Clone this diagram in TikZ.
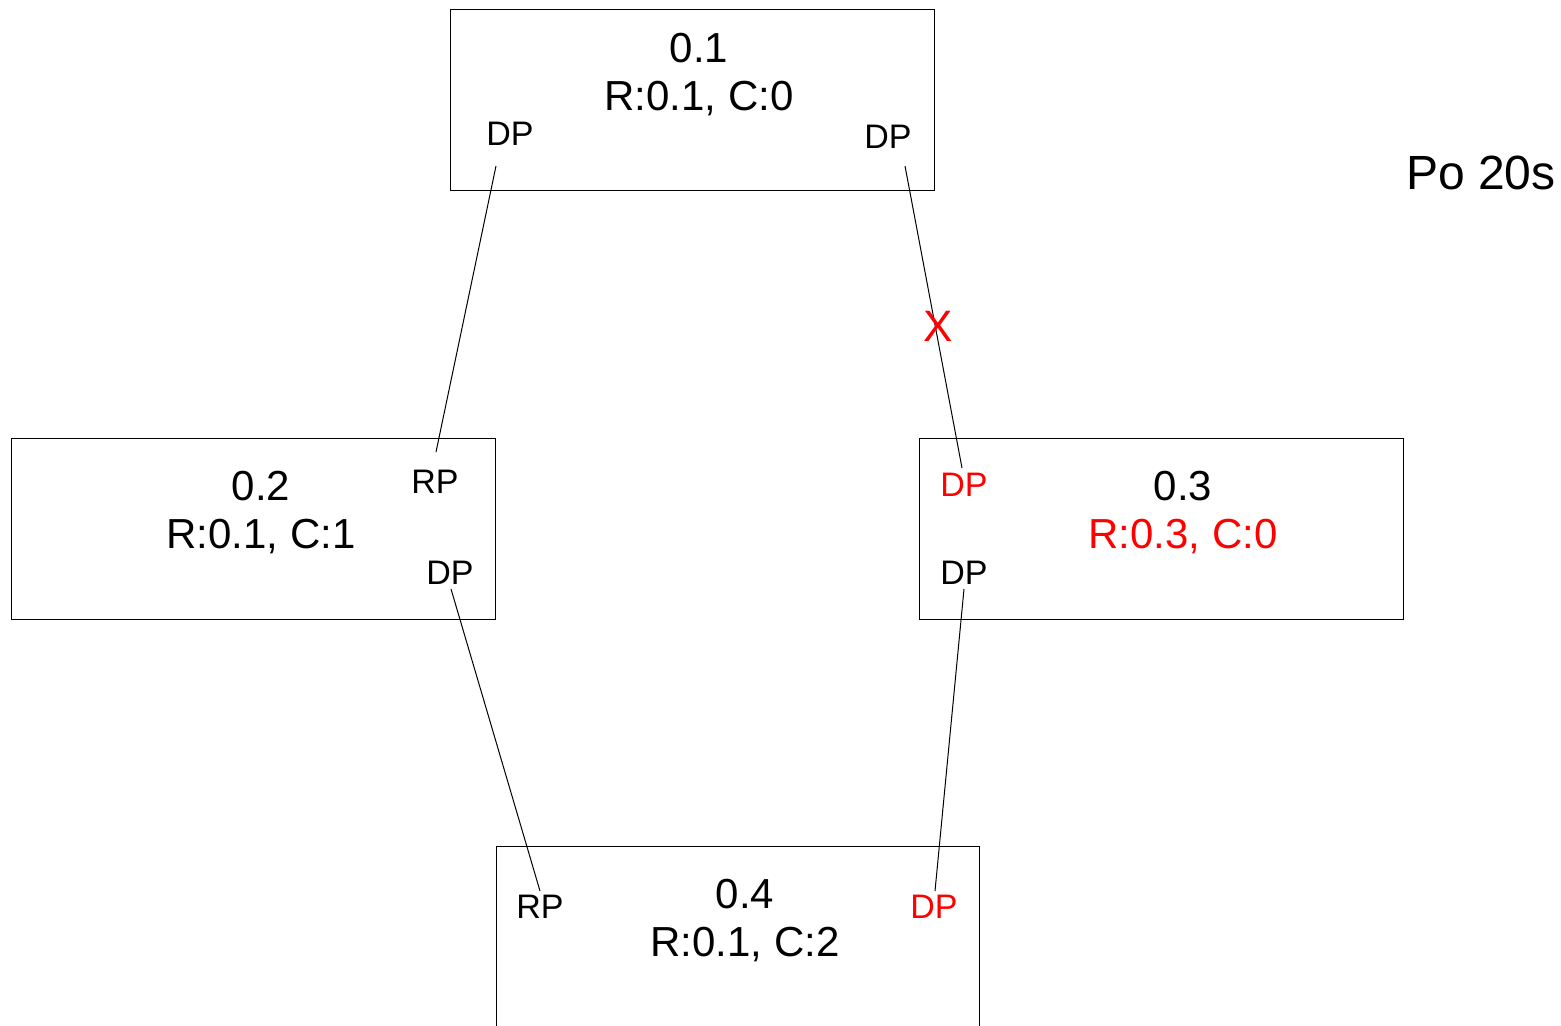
\documentclass[tikz,border=0pt]{standalone}
\usepackage{fontspec}
\setmainfont{Liberation Sans}
\begin{document}
\begin{tikzpicture}[x=0.5pt,y=-0.5pt,
  box/.style={draw=black,line width=0.5pt},
  link/.style={draw=black,line width=0.5pt},
  title/.style={font=\fontsize{21}{25}\selectfont,inner sep=0pt,anchor=center},
  port/.style={font=\fontsize{17}{20}\selectfont,inner sep=0pt,anchor=center},
  hot/.style={text=red}]
\useasboundingbox (0,0) rectangle (1561,1026);

% switch boxes
\draw[box] (450,10) rectangle (934,191);
\draw[box] (11,438) rectangle (495,619);
\draw[box] (919,438) rectangle (1403,619);
\draw[box] (496,1030) -- (496,846) -- (979,846) -- (979,1030);

% switch 0.1
\node[title] (n1) at (699,48) {0.1};
\node[title] (n1rc) at (699,99) {R:0.1, C:0};
\node[port] (p1a) at (510,134) {DP};
\node[port] (p1b) at (888,137) {DP};

% switch 0.2
\node[title] (n2) at (261,486) {0.2};
\node[title] (n2rc) at (261,537) {R:0.1, C:1};
\node[port] (p2a) at (435,482) {RP};
\node[port] (p2b) at (450,573) {DP};

% switch 0.3
\node[title] (n3) at (1183,486) {0.3};
\node[title,hot] (n3rc) at (1183,537) {R:0.3, C:0};
\node[port,hot] (p3a) at (964,485) {DP};
\node[port] (p3b) at (964,573) {DP};

% switch 0.4
\node[title] (n4) at (745,894) {0.4};
\node[title] (n4rc) at (745,945) {R:0.1, C:2};
\node[port] (p4a) at (540,907) {RP};
\node[port,hot] (p4b) at (934,907) {DP};

% time stamp
\node[font=\fontsize{24}{28}\selectfont,inner sep=0pt] (time) at (1481,173) {Po 20s};

% link end points
\coordinate (e1a) at (496,166);
\coordinate (e2a) at (436,452);
\coordinate (e1b) at (905,166);
\coordinate (e3a) at (962,468);
\coordinate (e2b) at (451,589);
\coordinate (e4a) at (540,891);
\coordinate (e3b) at (964,589);
\coordinate (e4b) at (935,891);

\draw[link] (e1a) -- (e2a);
\draw[link] (e1b) -- (e3a);
\draw[link] (e2b) -- (e4a);
\draw[link] (e3b) -- (e4b);

% failed link marker
\node[font=\fontsize{22}{26}\selectfont,text=red,inner sep=0pt] (fail) at (938,326) {X};
\end{tikzpicture}
\end{document}
